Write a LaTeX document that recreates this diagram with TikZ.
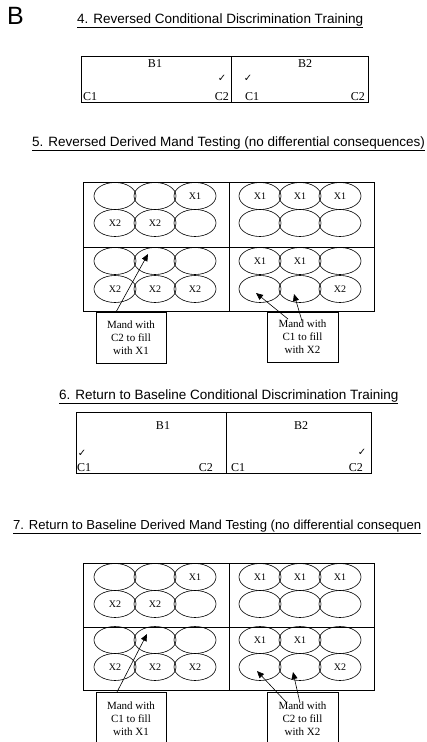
\documentclass[tikz,border=0pt]{standalone}
\usepackage{fontspec}
\setmainfont{Liberation Serif}
\newfontfamily\titlefont{Liberation Sans}
\newfontfamily\symfont{DejaVu Sans}
\usetikzlibrary{shapes.geometric,arrows.meta,calc}
\tikzset{
  ln/.style={line width=0.6pt,draw=black},
  ovalcell/.style={ellipse,ln,minimum width=42pt,minimum height=27pt,inner sep=0pt,
    font=\fontsize{10}{11}\selectfont},
  heading/.style={anchor=base west,inner sep=0pt,font=\titlefont\fontsize{13.5}{16}\selectfont},
  boxtxt/.style={inner sep=0pt,font=\fontsize{12}{14}\selectfont},
  tick/.style={inner sep=0pt,font=\symfont\fontsize{10}{11}\selectfont},
  calltxt/.style={align=center,inner sep=0pt,font=\fontsize{11}{13.2}\selectfont},
  callbox/.style={ln,minimum width=70pt,minimum height=51pt},
  arr/.style={ln,-{Triangle[length=7pt,width=6pt]}},
}
\newcommand\ovalrow[9]{%
  \node[ovalcell] (g#1-#2-1) at (115,#3) {#4};
  \node[ovalcell] (g#1-#2-2) at (155,#3) {#5};
  \node[ovalcell] (g#1-#2-3) at (195,#3) {#6};
  \node[ovalcell] (g#1-#2-4) at (260,#3) {#7};
  \node[ovalcell] (g#1-#2-5) at (300,#3) {#8};
  \node[ovalcell] (g#1-#2-6) at (340,#3) {#9};}
\begin{document}
\begin{tikzpicture}[x=1pt,y=-1pt]
\useasboundingbox (0,0) rectangle (426,742);
\fill[white] (0,0) rectangle (426,742);

% panel letter
\node[anchor=north west,inner sep=0pt,font=\titlefont\fontsize{25}{28}\selectfont] (panel) at (7,7.5) {B};

% ---------- 4 ----------
\node[heading] (t4) at (77,23) {\underline{4. Reversed Conditional Discrimination Training}};
\draw[ln] (81,56) rectangle (368,102);
\draw[ln] (231,56) -- (231,102);
\node[boxtxt] (b4a) at (155,63.5) {B1};
\node[boxtxt] (b4b) at (305,63.5) {B2};
\node[tick] (k4a) at (222,78) {✓};
\node[tick] (k4b) at (248,78) {✓};
\node[boxtxt,anchor=base west] (c4a) at (83,100) {C1};
\node[boxtxt,anchor=base east] (c4b) at (229,100) {C2};
\node[boxtxt,anchor=base west] (c4c) at (245,100) {C1};
\node[boxtxt,anchor=base east] (c4d) at (365,100) {C2};

% ---------- 5 ----------
\node[heading] (t5) at (32,146) {\underline{5. Reversed Derived Mand Testing (no differential consequences)}};
\draw[ln] (83,182) rectangle (374,311);
\draw[ln] (229,182) -- (229,311);
\draw[ln] (83,247) -- (374,247);
\ovalrow{5}{1}{196}{}{}{X1}{X1}{X1}{X1}
\ovalrow{5}{2}{223}{X2}{X2}{}{}{}{}
\ovalrow{5}{3}{261}{}{}{}{X1}{X1}{}
\ovalrow{5}{4}{289}{X2}{X2}{X2}{}{}{X2}
\node[callbox,calltxt] (m5a) at (131,337.5) {Mand with\\C2 to fill\\with X1};
\node[callbox,calltxt,minimum width=71pt,minimum height=50pt] (m5b) at (302.5,337) {Mand with\\C1 to fill\\with X2};
\coordinate (s5a) at (116,312);
\coordinate (s5b) at (288,319);
\coordinate (s5c) at (302,321);
\draw[arr] (s5a) -- ($(g5-3-2)+(-7,-7)$);
\draw[arr] (s5b) -- ($(g5-4-4)+(-4,4)$);
\draw[arr] (s5c) -- ($(g5-4-5)+(-6,5)$);

% ---------- 6 ----------
\node[heading] (t6) at (59,399) {\underline{6. Return to Baseline Conditional Discrimination Training}};
\draw[ln] (76,412) rectangle (371,473);
\draw[ln] (226,412) -- (226,473);
\node[boxtxt] (b6a) at (163,426) {B1};
\node[boxtxt] (b6b) at (301,426) {B2};
\node[tick] (k6a) at (82,453) {✓};
\node[tick] (k6b) at (362,452) {✓};
\node[boxtxt,anchor=base west] (c6a) at (77,471.5) {C1};
\node[boxtxt,anchor=base east] (c6b) at (213,471.5) {C2};
\node[boxtxt,anchor=base west] (c6c) at (231,471.5) {C1};
\node[boxtxt,anchor=base east] (c6d) at (363,471.5) {C2};

% ---------- 7 ----------
\node[heading,font=\titlefont\fontsize{13.1}{16}\selectfont] (t7) at (13,529) {\underline{7. Return to Baseline Derived Mand Testing (no differential consequen}};
\draw[ln] (83,563) rectangle (374,690);
\draw[ln] (229,563) -- (229,690);
\draw[ln] (83,627) -- (374,627);
\ovalrow{7}{1}{577}{}{}{X1}{X1}{X1}{X1}
\ovalrow{7}{2}{604}{X2}{X2}{}{}{}{}
\ovalrow{7}{3}{640}{}{}{}{X1}{X1}{}
\ovalrow{7}{4}{667}{X2}{X2}{X2}{}{}{X2}
\draw[ln] (96,742) |- (166,692) -- (166,742);
\draw[ln,line width=1pt] (267,742) |- (338,692) -- (338,742);
\node[calltxt] (m7a) at (131,719) {Mand with\\C1 to fill\\with X1};
\node[calltxt] (m7b) at (302.5,719) {Mand with\\C2 to fill\\with X2};
\coordinate (s7a) at (117,692);
\coordinate (s7b) at (287,703);
\coordinate (s7c) at (300,703);
\draw[arr] (s7a) -- ($(g7-3-2)+(-8,-6)$);
\draw[arr] (s7b) -- ($(g7-4-4)+(-3,4)$);
\draw[arr] (s7c) -- ($(g7-4-5)+(-7,5)$);
\end{tikzpicture}
\end{document}
